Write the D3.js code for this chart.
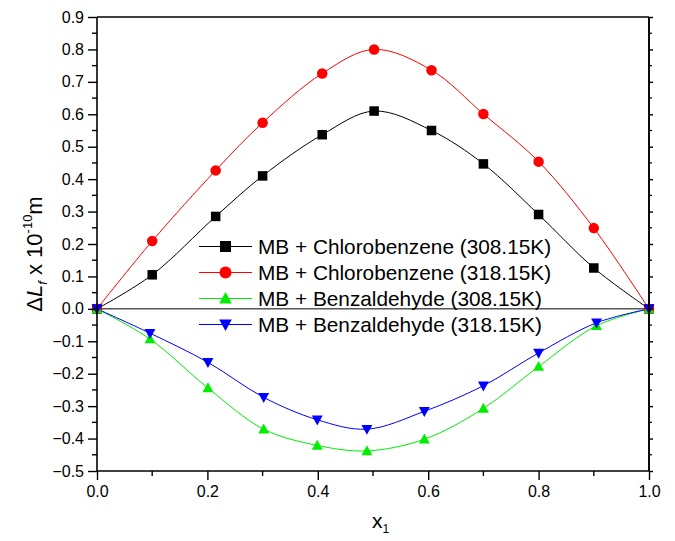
<!DOCTYPE html>
<html>
<head>
<meta charset="utf-8">
<script src="https://cdn.jsdelivr.net/npm/d3@7"></script>
<style>
  html, body { margin: 0; padding: 0; background: #fff; }
  svg { display: block; font-family: "Liberation Sans", Arial, Helvetica, sans-serif; }
</style>
</head>
<body>
<svg id="chart" width="675" height="541"></svg>
<script>
// Mole fraction of component 1
const xChloro = [0, 0.1, 0.215, 0.3, 0.408, 0.502, 0.606, 0.70, 0.80, 0.90, 1.0];
const xBenz   = [0, 0.096, 0.201, 0.302, 0.399, 0.489, 0.593, 0.70, 0.80, 0.905, 1.0];

// ΔLf values (x 10^-10 m)
const chloro308 = [0, 0.105, 0.285, 0.410, 0.537, 0.610, 0.550, 0.447, 0.291, 0.126, 0];
const chloro318 = [0, 0.209, 0.427, 0.574, 0.726, 0.800, 0.736, 0.601, 0.454, 0.249, 0];
const benz308   = [0, -0.093, -0.244, -0.371, -0.421, -0.438, -0.402, -0.307, -0.178, -0.052, 0];
const benz318   = [0, -0.075, -0.165, -0.273, -0.342, -0.371, -0.316, -0.237, -0.136, -0.043, 0];

const seriesNames = [
  "MB + Chlorobenzene (308.15K)",
  "MB + Chlorobenzene (318.15K)",
  "MB + Benzaldehyde (308.15K)",
  "MB + Benzaldehyde (318.15K)"
];
const seriesColors = ["#000000", "#ff0000", "#00ee00", "#0000ff"];
const seriesSymbols = ["square", "circle", "triangleUp", "triangleDown"];

const xTicks = [0, 0.2, 0.4, 0.6, 0.8, 1.0];
const xMinor = [0.1, 0.3, 0.5, 0.7, 0.9];
const yTicks = [-0.5, -0.4, -0.3, -0.2, -0.1, 0.0, 0.1, 0.2, 0.3, 0.4, 0.5, 0.6, 0.7, 0.8, 0.9];
const yMinor = [-0.45, -0.35, -0.25, -0.15, -0.05, 0.05, 0.15, 0.25, 0.35, 0.45, 0.55, 0.65, 0.75, 0.85];

const svg = d3.select("#chart");
const plotL = 97, plotR = 649, plotT = 17, plotB = 471;

const x = d3.scaleLinear().domain([0, 1]).range([plotL, plotR]);
const y = d3.scaleLinear().domain([-0.5, 0.9]).range([plotB, plotT]);

const series = [
  { name: seriesNames[0], xs: xChloro, ys: chloro308, color: seriesColors[0], sym: seriesSymbols[0] },
  { name: seriesNames[1], xs: xChloro, ys: chloro318, color: seriesColors[1], sym: seriesSymbols[1] },
  { name: seriesNames[2], xs: xBenz,   ys: benz308,   color: seriesColors[2], sym: seriesSymbols[2] },
  { name: seriesNames[3], xs: xBenz,   ys: benz318,   color: seriesColors[3], sym: seriesSymbols[3] }
];

// zero reference line
svg.append("line")
  .attr("x1", x(0)).attr("x2", x(1))
  .attr("y1", y(0)).attr("y2", y(0))
  .attr("stroke", "#000").attr("stroke-width", 1);

// marker drawing
function drawMarker(g, sym, cx, cy, color, s) {
  if (sym === "square") {
    g.append("rect").attr("x", cx - s / 2).attr("y", cy - s / 2)
      .attr("width", s).attr("height", s).attr("fill", color);
  } else if (sym === "circle") {
    g.append("circle").attr("cx", cx).attr("cy", cy).attr("r", s / 2 + 0.5).attr("fill", color);
  } else if (sym === "triangleUp") {
    const h = s * 1.0, w = s * 1.15;
    g.append("path").attr("d", `M${cx},${cy - h * 0.6}L${cx + w / 2},${cy + h * 0.45}L${cx - w / 2},${cy + h * 0.45}Z`)
      .attr("fill", color);
  } else {
    const h = s * 1.0, w = s * 1.15;
    g.append("path").attr("d", `M${cx},${cy + h * 0.6}L${cx + w / 2},${cy - h * 0.45}L${cx - w / 2},${cy - h * 0.45}Z`)
      .attr("fill", color);
  }
}

const line = d3.line().curve(d3.curveCatmullRom.alpha(0.5));

series.forEach(s => {
  const pts = s.xs.map((v, i) => [x(v), y(s.ys[i])]);
  svg.append("path").attr("d", line(pts))
    .attr("fill", "none").attr("stroke", s.color).attr("stroke-width", 1);
});
series.forEach(s => {
  const g = svg.append("g");
  s.xs.forEach((v, i) => drawMarker(g, s.sym, x(v), y(s.ys[i]), s.color, 9.5));
});

// frame
const frame = svg.append("g").attr("stroke", "#000").attr("stroke-width", 1.6).attr("fill", "none");
frame.append("line").attr("x1", plotL).attr("x2", plotR).attr("y1", plotT).attr("y2", plotT);
frame.append("line").attr("x1", plotR).attr("x2", plotR).attr("y1", plotT).attr("y2", plotB);

// axes
const xAxis = d3.axisBottom(x).tickValues(xTicks).tickFormat(d3.format(".1f")).tickSize(9).tickPadding(6);
const gx = svg.append("g").attr("transform", `translate(0,${plotB})`).call(xAxis);
gx.append("g").selectAll("line").data(xMinor).join("line")
  .attr("x1", d => x(d)).attr("x2", d => x(d)).attr("y1", 0).attr("y2", 5)
  .attr("stroke", "#000").attr("stroke-width", 1.4);

const yAxis = d3.axisLeft(y).tickValues(yTicks).tickFormat(d3.format(".1f")).tickSize(9).tickPadding(4);
const gy = svg.append("g").attr("transform", `translate(${plotL},0)`).call(yAxis);
gy.append("g").selectAll("line").data(yMinor).join("line")
  .attr("x1", 0).attr("x2", -5).attr("y1", d => y(d)).attr("y2", d => y(d))
  .attr("stroke", "#000").attr("stroke-width", 1.4);

const yRight = d3.axisRight(y).tickValues(yTicks).tickFormat("").tickSize(4);
const gr = svg.append("g").attr("transform", `translate(${plotR},0)`).call(yRight);
gr.append("g").selectAll("line").data(yMinor).join("line")
  .attr("x1", 0).attr("x2", 3).attr("y1", d => y(d)).attr("y2", d => y(d))
  .attr("stroke", "#000").attr("stroke-width", 1.2);

[gx, gy, gr].forEach(g => {
  g.select(".domain").attr("stroke-width", 1.6);
  g.selectAll(".tick line").attr("stroke-width", 1.4);
  g.selectAll("text").attr("font-size", 16).attr("font-family", "Liberation Sans, Arial, sans-serif").attr("fill", "#000");
});
gx.select(".domain").attr("d", `M${plotL},0H${plotR}`);
gy.select(".domain").attr("d", `M0,${plotT}V${plotB}`);
gr.select(".domain").attr("d", `M0,${plotT}V${plotB}`);

// axis titles
const xt = svg.append("text").attr("x", 372).attr("y", 528).attr("font-size", 21).attr("fill", "#000");
xt.append("tspan").text("x");
xt.append("tspan").attr("dy", 5).attr("font-size", 12).text("1");

const yt = svg.append("text")
  .attr("transform", "translate(42,254) rotate(-90)")
  .attr("text-anchor", "middle").attr("font-size", 22).attr("fill", "#000");
yt.append("tspan").text("Δ");
yt.append("tspan").attr("font-style", "italic").text("L");
yt.append("tspan").attr("font-style", "italic").attr("font-size", 13).attr("dy", 5).text("f");
yt.append("tspan").attr("dy", -5).text(" x 10");
yt.append("tspan").attr("font-size", 13).attr("dy", -10).text("-10");
yt.append("tspan").attr("dy", 10).text("m");

// legend
const legend = svg.append("g");
const rowY = [246.5, 272.5, 298.5, 324.5];
series.forEach((s, i) => {
  const ry = rowY[i];
  legend.append("line").attr("x1", 199).attr("x2", 252).attr("y1", ry).attr("y2", ry)
    .attr("stroke", s.color).attr("stroke-width", 1);
  drawMarker(legend, s.sym, 225.5, ry, s.color, 11);
  legend.append("text").attr("x", 258).attr("y", ry + 7.5)
    .attr("font-size", 20.8).attr("fill", "#000").text(s.name);
});
</script>
</body>
</html>
